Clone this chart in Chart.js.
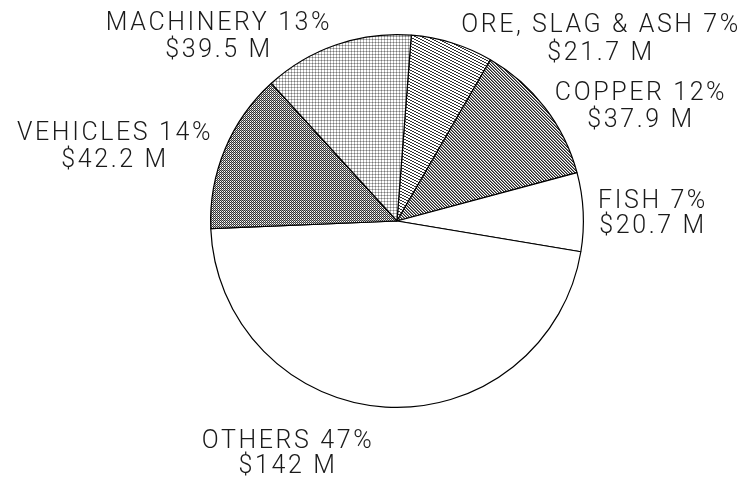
<!DOCTYPE html>
<html>
<head>
<meta charset="utf-8">
<script src="https://cdn.jsdelivr.net/npm/chart.js@4.4.0/dist/chart.umd.min.js"></script>
<style>
  html, body { margin: 0; padding: 0; background: #fff; }
  #wrap { width: 756px; height: 484px; }
</style>
</head>
<body>
<div id="wrap"><canvas id="pieChart" width="756" height="484"></canvas></div>
<script>
// Export categories, clockwise from the top
const categories = ['ORE, SLAG & ASH', 'COPPER', 'FISH', 'OTHERS', 'VEHICLES', 'MACHINERY'];
const values = [21.7, 37.9, 20.7, 142, 42.2, 39.5];   // $ millions
const percents = [7, 12, 7, 47, 14, 13];
const valueLabels = ['$21.7 M', '$37.9 M', '$20.7 M', '$142 M', '$42.2 M', '$39.5 M'];

// label anchor: centre x, baseline of line 1, baseline of line 2
const labelPos = [
    [601, 32, 60],
    [641, 100, 127],
    [653, 208, 233],
    [288, 448, 473],
    [115, 140, 167],
    [219, 30, 57]
];

// small bitmap tiles to imitate the printed screen tones
function makePattern(w, h, draw) {
    const c = document.createElement('canvas');
    c.width = w;
    c.height = h;
    const g = c.getContext('2d');
    g.fillStyle = '#fff';
    g.fillRect(0, 0, w, h);
    draw(g);
    return g.createPattern(c, 'repeat');
}

const ctx = document.getElementById('pieChart').getContext('2d');

const orePattern = makePattern(6, 3, g => {
    g.fillStyle = '#333';
    [[0, 0], [1, 0], [2, 1], [3, 1], [4, 2], [5, 2]].forEach(p => g.fillRect(p[0], p[1], 1, 1));
});
const copperPattern = makePattern(3, 3, g => {
    g.fillStyle = '#222';
    for (let i = 0; i < 3; i++) g.fillRect(i, i, 1, 1);
    g.fillStyle = '#888';
    for (let i = 0; i < 3; i++) g.fillRect((i + 1) % 3, i, 1, 1);
});
const vehiclePattern = makePattern(2, 2, g => {
    g.fillStyle = '#333';
    g.fillRect(0, 0, 1, 1);
    g.fillRect(1, 1, 1, 1);
    g.fillStyle = '#aaa';
    g.fillRect(1, 0, 1, 1);
});
const machineryPattern = makePattern(3, 3, g => {
    g.fillStyle = '#b4b4b4';
    g.fillRect(0, 0, 3, 1);
    g.fillRect(0, 0, 1, 3);
    g.fillStyle = '#777';
    g.fillRect(0, 0, 1, 1);
});

const fills = [orePattern, copperPattern, '#ffffff', '#ffffff', vehiclePattern, machineryPattern];

const sliceLabels = {
    id: 'sliceLabels',
    afterDraw(chart) {
        const c = chart.ctx;
        c.save();
        c.fillStyle = '#1a1a1a';
        c.font = '300 25px Roboto, "Liberation Sans", sans-serif';
        c.letterSpacing = '2.6px';
        c.textAlign = 'center';
        c.textBaseline = 'alphabetic';
        categories.forEach((name, i) => {
            const p = labelPos[i];
            c.fillText(name + ' ' + percents[i] + '%', p[0], p[1]);
            c.fillText(valueLabels[i], p[0], p[2]);
        });
        c.restore();
    }
};

new Chart(ctx, {
    type: 'pie',
    data: {
        labels: categories,
        datasets: [{
            data: values,
            backgroundColor: fills,
            borderColor: '#000',
            borderWidth: 1.2,
            hoverOffset: 0,
            offset: 0
        }]
    },
    options: {
        responsive: false,
        animation: false,
        rotation: 4.4,
        layout: {
            padding: { left: 210, right: 172, top: 34, bottom: 76 }
        },
        plugins: {
            legend: { display: false },
            tooltip: { enabled: false }
        },
        events: []
    },
    plugins: [sliceLabels]
});
</script>
</body>
</html>
